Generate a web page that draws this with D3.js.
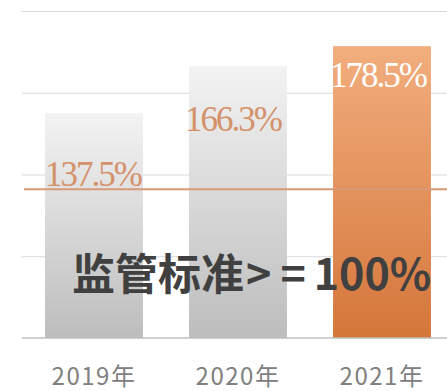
<!DOCTYPE html>
<html>
<head>
<meta charset="utf-8">
<script src="https://cdn.jsdelivr.net/npm/d3@7"></script>
<style>
  html, body { margin: 0; padding: 0; background: #ffffff; }
  svg { display: block; }
</style>
</head>
<body>
<svg id="chart" width="447" height="391"></svg>
<script>
// Capital adequacy ratio by year
const categories = ["2019年", "2020年", "2021年"];
const values = [137.5, 166.3, 178.5];
const valueLabels = ["137.5%", "166.3%", "178.5%"];
const yTicks = [0, 50, 100, 150, 200];
const standardValue = 100;
const standardText = ["监管标准", ">", "=", "100%"];

const W = 447, H = 391;
const mLeft = 22, mRight = 454, mTop = 11, mBottom = 338;

const svg = d3.select("#chart");
const defs = svg.append("defs");

function vGrad(id, c0, c1) {
  const g = defs.append("linearGradient").attr("id", id)
    .attr("x1", 0).attr("y1", 0).attr("x2", 0).attr("y2", 1);
  g.append("stop").attr("offset", "0%").attr("stop-color", c0);
  g.append("stop").attr("offset", "100%").attr("stop-color", c1);
}
vGrad("gGray", "#f3f3f3", "#bdbdbd");
vGrad("gOrange", "#f2ae7e", "#d4763a");

const x = d3.scaleBand().domain(categories).range([mLeft, mRight])
  .paddingInner(0.32).paddingOuter(0.16);
const y = d3.scaleLinear().domain([0, 200]).range([mBottom, mTop]);
// standard line sits on the secondary axis
const y2 = d3.scaleLinear().domain([0, 220]).range([mBottom, mTop]);

// gridlines
const grid = svg.append("g")
  .attr("transform", `translate(${mLeft},0)`)
  .call(d3.axisLeft(y).tickValues(yTicks.slice(1)).tickSize(-(W - mLeft)).tickFormat(""));
grid.select(".domain").remove();
grid.selectAll("line").attr("stroke", "#d9d9d9").attr("stroke-width", 1.2);

// bars
svg.append("g").selectAll("rect")
  .data(values)
  .join("rect")
  .attr("x", (d, i) => x(categories[i]))
  .attr("y", d => y(d))
  .attr("width", x.bandwidth())
  .attr("height", d => y(0) - y(d))
  .attr("fill", (d, i) => i === values.length - 1 ? "url(#gOrange)" : "url(#gGray)");

// x axis
const xAxis = svg.append("g")
  .attr("transform", `translate(0,${mBottom})`)
  .call(d3.axisBottom(x).tickSize(0).tickPadding(0));
xAxis.select(".domain").attr("d", `M${mLeft},0H${W}`)
  .attr("stroke", "#bfbfbf").attr("stroke-width", 1.6);
xAxis.selectAll("text")
  .attr("dy", 0).attr("y", 47)
  .attr("fill", "#808080")
  .style("font-family", "'Noto Sans CJK SC', 'Noto Sans', sans-serif")
  .style("font-size", "24px")
  .style("letter-spacing", "1.5px");

// regulatory standard line
svg.append("line")
  .attr("x1", mLeft + 2).attr("x2", W)
  .attr("y1", y2(standardValue)).attr("y2", y2(standardValue))
  .attr("stroke", "#d69a78").attr("stroke-width", 2);

// value labels
const labelDrop = [73, 65, 41];
const labelShift = [-1, -5, -4];
svg.append("g").selectAll("text")
  .data(values)
  .join("text")
  .attr("x", (d, i) => x(categories[i]) + x.bandwidth() / 2 + labelShift[i])
  .attr("y", (d, i) => y(d) + labelDrop[i])
  .attr("text-anchor", "middle")
  .attr("fill", (d, i) => i === values.length - 1 ? "#ffffff" : "#d4916a")
  .style("font-family", "'Liberation Serif', 'DejaVu Serif', serif")
  .style("font-size", "35px")
  .style("letter-spacing", "-2px")
  .text((d, i) => valueLabels[i]);

// standard annotation
const ann = svg.append("text")
  .attr("x", 72).attr("y", 290)
  .attr("fill", "#404040")
  .style("font-family", "'Noto Sans CJK SC', sans-serif")
  .style("font-weight", "bold")
  .style("font-size", "43px");
const dxs = [0, 2, 9, 8];
standardText.forEach((t, i) => ann.append("tspan").attr("dx", dxs[i]).text(t));
</script>
</body>
</html>
